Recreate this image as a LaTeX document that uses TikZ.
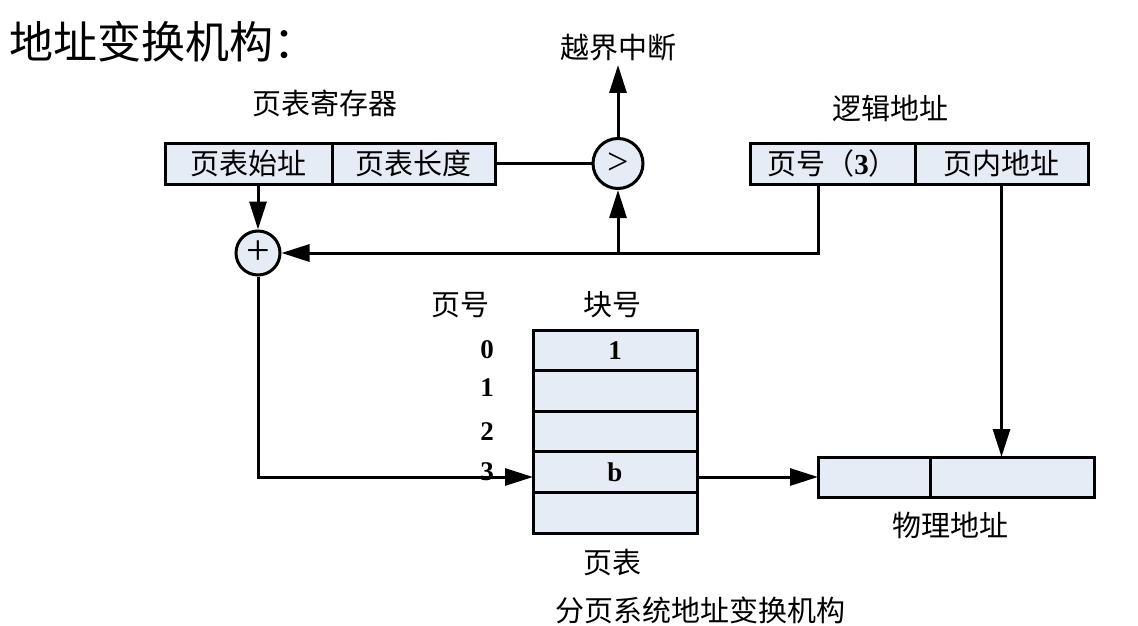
\documentclass[tikz,border=0pt]{standalone}
\usepackage{fontspec}
\setmainfont{Liberation Serif}
\newfontfamily\cjk{Noto Sans CJK SC}
\usetikzlibrary{positioning,arrows.meta}
\definecolor{cellbg}{HTML}{E6ECF6}

\begin{document}
\begin{tikzpicture}[x=1pt,y=-1pt,
    cell/.style={draw=black,line width=3pt,fill=cellbg,outer sep=0pt,inner sep=0pt,
                 minimum height=41pt,font=\cjk\fontsize{29}{29}\selectfont},
    row/.style={cell,minimum width=164pt,minimum height=40.6pt,
                font=\bfseries\fontsize{27}{27}\selectfont},
    op/.style={circle,draw=black,line width=3pt,fill=cellbg,inner sep=0pt},
    lbl/.style={font=\cjk\fontsize{29}{29}\selectfont},
    num/.style={font=\bfseries\fontsize{27}{27}\selectfont},
    ln/.style={line width=3pt},
    arr/.style={ln,-{Triangle[length=28pt,width=17pt]}}]
    \useasboundingbox (0,0) rectangle (1138,626);
    \node[font=\cjk\fontsize{44}{44}\selectfont,anchor=west] (title) at (6,42) {地址变换机构：};
    % page table register
    \node[cell,minimum width=167pt] (start) at (248.5,163.5) {页表始址};
    \node[cell,minimum width=163pt,right=0pt of start] (len) {页表长度};
    \node[lbl] (reglbl) at (325,103) {页表寄存器};
    % comparator and adder
    \node[op,minimum size=50pt,font=\fontsize{38}{38}\selectfont] (cmp) at (618,163.5) {>};
    \node[lbl] (ovf) at (618,48) {越界中断};
    \node[op,minimum size=44pt,font=\fontsize{42}{42}\selectfont] (add) at (258,253) {+};
    % logical address
    \node[cell,minimum width=165pt] (pn) at (832.5,163.5) {\cjk 页号（\textbf{\rmfamily 3}）};
    \node[cell,minimum width=173pt,right=0pt of pn] (off) {页内地址};
    \node[lbl] (lalbl) at (890,108) {逻辑地址};
    \coordinate (turn) at (818,253);
    % page table
    \node[row] (pt0) at (615,350.3) {1};
    \node[row,below=0pt of pt0] (pt1) {};
    \node[row,below=0pt of pt1] (pt2) {};
    \node[row,below=0pt of pt2] (pt3) {b};
    \node[row,below=0pt of pt3] (pt4) {};
    \node[num] (n0) at (487,350) {0};
    \node[num] (n1) at (487,388) {1};
    \node[num] (n2) at (487,432) {2};
    \node[num] (n3) at (487,472) {3};
    \node[lbl] (pglbl) at (460,305) {页号};
    \node[lbl] (blklbl) at (612,305) {块号};
    \node[lbl] (ptlbl) at (612,563) {页表};
    \node[lbl] (caption) at (700,610) {分页系统地址变换机构};
    % physical address
    \node[cell,minimum width=112pt,minimum height=40pt] (pa1) at (874,477) {};
    \node[cell,minimum width=164pt,minimum height=40pt,right=0pt of pa1] (pa2) {};
    \node[lbl] (palbl) at (950,525) {物理地址};
    % connectors
    \draw[arr] (start.south -| add) -- (add);
    \draw[ln] (len.east) -- (cmp.west);
    \draw[arr] (cmp) -- (ovf);
    \draw[arr] (pn.south -| turn) -- (turn) -- (add);
    \draw[arr] (cmp |- turn) -- (cmp);
    \draw[arr] (add) |- (pt3.west |- pa1);
    \draw[arr] (pt3.east |- pa1) -- (pa1);
    \draw[arr] (off.south) -- (off.south |- pa2.north);
\end{tikzpicture}
\end{document}
